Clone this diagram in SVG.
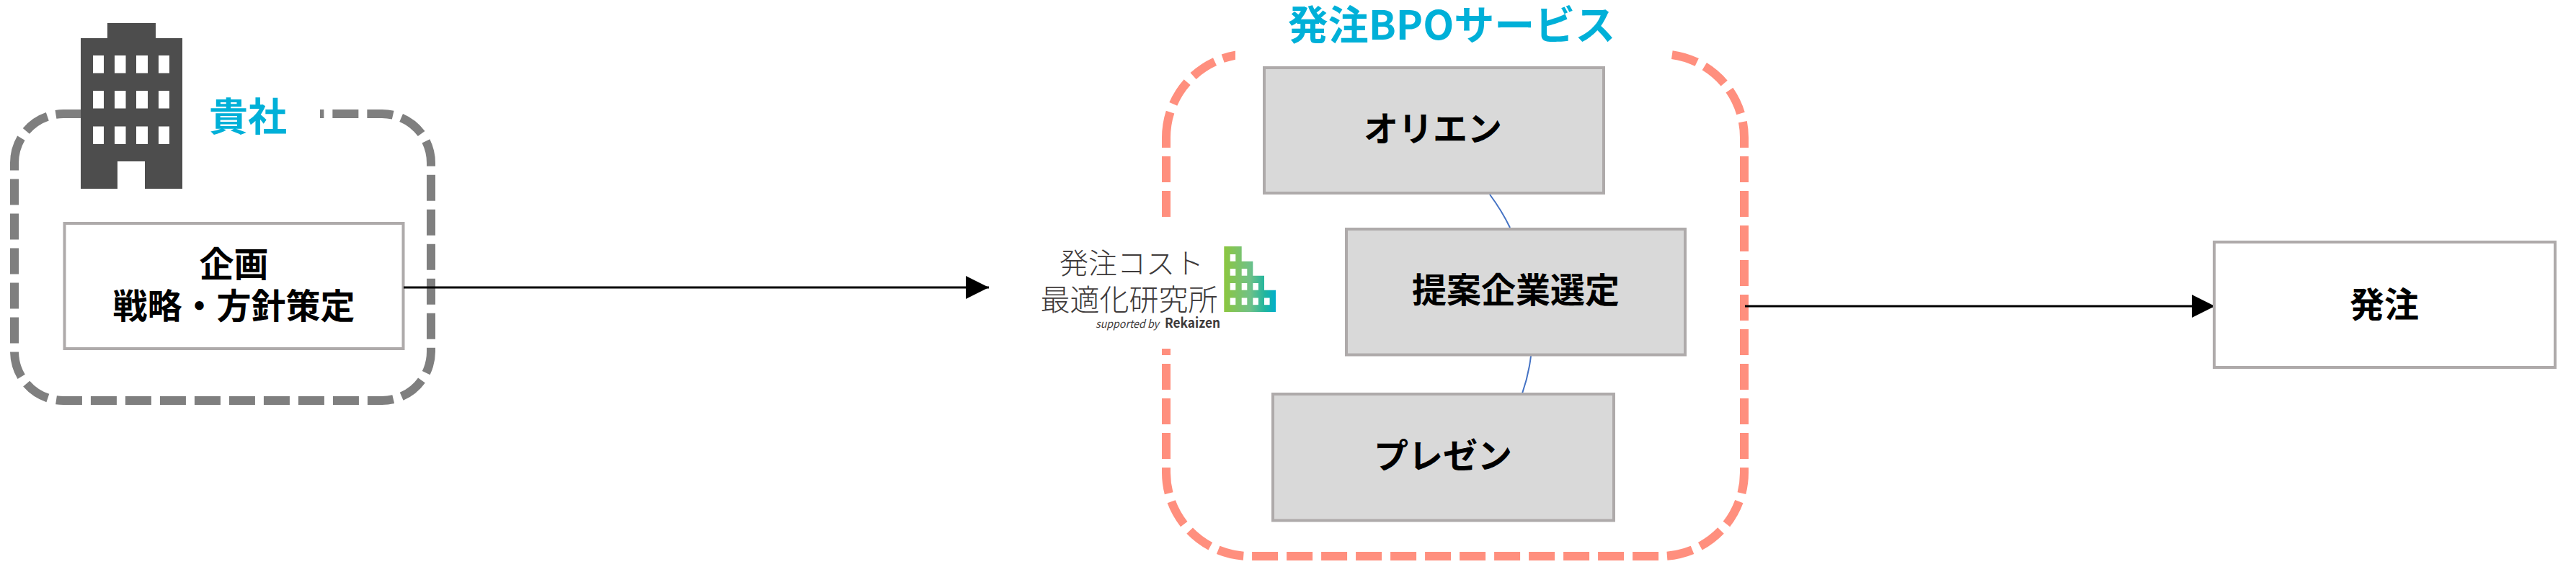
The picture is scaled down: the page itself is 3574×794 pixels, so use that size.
<svg xmlns="http://www.w3.org/2000/svg" width="3574" height="794" viewBox="0 0 3574 794">
<style>
text{font-family:"Noto Sans CJK JP","Noto Sans",sans-serif;text-anchor:middle}
.lb{font-size:48px;font-weight:700;fill:#000}
.ti{font-size:54px;font-weight:700;fill:#00b0d8}
.bx{stroke:#aeaaaa;stroke-width:4}
.wh{fill:#fff}
.gy{fill:#d9d9d9}
.dash{fill:none;stroke-width:12;stroke-dasharray:36 12}
.ar{fill:none;stroke:#000;stroke-width:3;marker-end:url(#ah)}
.cv{fill:none;stroke:#4472c4;stroke-width:2}
.win{fill:#fff}
.lg{fill:#3e3a3a}
</style>
<defs>
<marker id="ah" markerUnits="userSpaceOnUse" markerWidth="32" markerHeight="32" refX="32" refY="16" orient="auto"><path d="M0 0L32 16L0 32Z" fill="#000"/></marker>
<linearGradient id="lgg" x1="0" x2="1" y1="0" y2="0"><stop offset="0" stop-color="#8cc63f"/><stop offset=".5" stop-color="#70c187"/><stop offset=".8" stop-color="#1fb59f"/><stop offset="1" stop-color="#00afcc"/></linearGradient>
</defs>
<rect width="3574" height="794" fill="#fff"/>
<g id="kisha">
<path class="dash" d="M20 226A68 68 0 0 1 88 158H530A68 68 0 0 1 598 226V488A68 68 0 0 1 530 556H88A68 68 0 0 1 20 488Z" stroke="#7f7f7f"/>
<rect class="wh" x="252" y="148" width="192" height="22"/>
<text class="ti" x="344" y="182">貴社</text>
</g>
<g id="building" fill="#4d4d4d">
<path d="M112 53H149V32H216V53H253V262H201V224H163V262H112Z"/>
<g class="win">
<rect x="129" y="77" width="15" height="24.500"/><rect x="159" y="77" width="15.500" height="24.500"/><rect x="189" y="77" width="16" height="24.500"/><rect x="220" y="77" width="15" height="24.500"/>
<rect x="129" y="126" width="15" height="24.500"/><rect x="159" y="126" width="15.500" height="24.500"/><rect x="189" y="126" width="16" height="24.500"/><rect x="220" y="126" width="15" height="24.500"/>
<rect x="129" y="175.500" width="15" height="24.500"/><rect x="159" y="175.500" width="15.500" height="24.500"/><rect x="189" y="175.500" width="16" height="24.500"/><rect x="220" y="175.500" width="15" height="24.500"/>
</g>
</g>
<g id="kikaku">
<rect class="bx wh" x="89.500" y="310" width="470" height="174"/>
<text class="lb" x="324.500" y="384">企画</text>
<text class="lb" x="324.500" y="442">戦略・方針策定</text>
</g>
<g id="bpo">
<path class="dash" d="M1618 191A116 116 0 0 1 1734 75H2304A116 116 0 0 1 2420 191V656A116 116 0 0 1 2304 772H1734A116 116 0 0 1 1618 656Z" stroke="#ff8f7e"/>
<rect class="wh" x="1714" y="60" width="604" height="30"/>
<text class="ti" x="2014" y="55" style="font-size:56px">発注BPOサービス</text>
</g>
<g id="logo">
<rect class="wh" x="1400" y="301" width="380" height="183"/>
<text class="lg" x="1570" y="380" font-size="40" font-weight="300">発注コスト</text>
<text class="lg" x="1566.500" y="431" font-size="41" font-weight="300">最適化研究所</text>
<text class="lg" x="1564" y="455" font-size="15" font-style="italic" textLength="88" lengthAdjust="spacingAndGlyphs">supported by</text>
<text class="lg" x="1654.500" y="455" font-size="19" font-weight="700" textLength="77" lengthAdjust="spacingAndGlyphs">Rekaizen</text>
<path d="M1698.300 342H1722.700V362.700H1738.300V382.700H1754V402.700H1770V433H1698.300Z" fill="url(#lgg)"/>
<g class="win">
<rect x="1706.700" y="353" width="7.600" height="9.700"/>
<rect x="1706.700" y="373" width="7.600" height="9.700"/><rect x="1722.700" y="373" width="7.600" height="9.700"/>
<rect x="1706.700" y="393" width="7.600" height="9.700"/><rect x="1722.700" y="393" width="7.600" height="9.700"/><rect x="1738.300" y="393" width="7.600" height="9.700"/>
<rect x="1706.700" y="413.500" width="7.600" height="9.700"/><rect x="1722.700" y="413.500" width="7.600" height="9.700"/><rect x="1738.300" y="413.500" width="7.600" height="9.700"/><rect x="1754" y="413.500" width="7.600" height="9.700"/>
</g>
</g>
<g id="connectors">
<path class="cv" d="M2067 270Q2084 293 2095 316"/>
<path class="cv" d="M2124 494Q2121 520 2112 546"/>
<path class="ar" d="M560 399H1372"/>
<path class="ar" d="M2421 425H3073"/>
</g>
<g id="orien">
<rect class="bx gy" x="1754" y="94" width="471" height="174"/>
<text class="lb" x="1988" y="196">オリエン</text>
</g>
<g id="teian">
<rect class="bx gy" x="1868" y="318" width="470" height="174.500"/>
<text class="lb" x="2103" y="420">提案企業選定</text>
</g>
<g id="presen">
<rect class="bx gy" x="1766" y="547" width="473" height="175.500"/>
<text class="lb" x="2002" y="650">プレゼン</text>
</g>
<g id="hatchu">
<rect class="bx wh" x="3072" y="336" width="473" height="174"/>
<text class="lb" x="3308" y="440">発注</text>
</g>
</svg>
